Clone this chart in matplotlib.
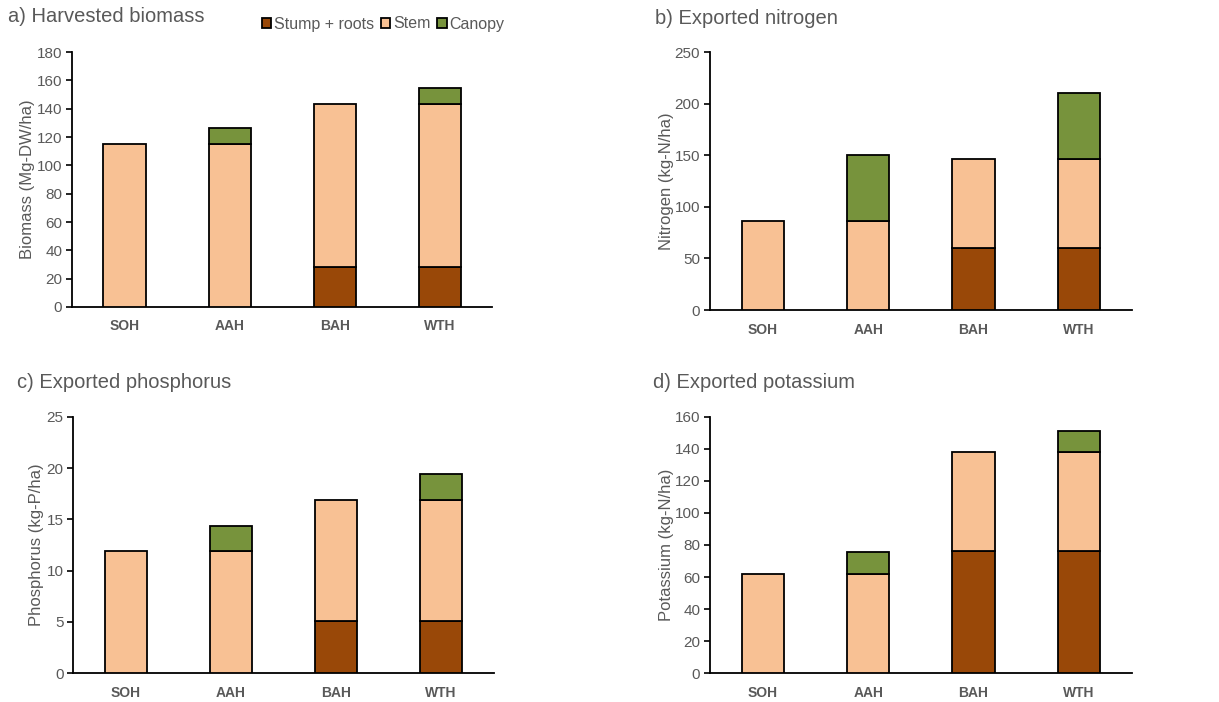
import numpy as np
import matplotlib.pyplot as plt

plt.rcParams['font.family'] = ['Liberation Sans', 'DejaVu Sans']

categories = ['SOH', 'AAH', 'BAH', 'WTH']
components = ['Stump + roots', 'Stem', 'Canopy']
colors = ['#994808', '#F8C194', '#77933C']

# stacked values per panel: stump, stem, canopy
biomass_stump = [0, 0, 28, 28]
biomass_stem = [115, 115, 115.5, 115.5]
biomass_canopy = [0, 11.5, 0, 11.5]

nitrogen_stump = [0, 0, 60, 60]
nitrogen_stem = [86, 86, 86, 86]
nitrogen_canopy = [0, 64, 0, 64]

phosphorus_stump = [0, 0, 5.1, 5.1]
phosphorus_stem = [11.9, 11.9, 11.8, 11.8]
phosphorus_canopy = [0, 2.5, 0, 2.5]

potassium_stump = [0, 0, 76, 76]
potassium_stem = [62, 62, 62, 62]
potassium_canopy = [0, 13.5, 0, 13]

panels = [
    ('a) Harvested biomass', 'Biomass (Mg-DW/ha)',
     (biomass_stump, biomass_stem, biomass_canopy), 180, 20),
    ('b) Exported nitrogen', 'Nitrogen (kg-N/ha)',
     (nitrogen_stump, nitrogen_stem, nitrogen_canopy), 250, 50),
    ('c) Exported phosphorus', 'Phosphorus (kg-P/ha)',
     (phosphorus_stump, phosphorus_stem, phosphorus_canopy), 25, 5),
    ('d) Exported potassium', 'Potassium (kg-N/ha)',
     (potassium_stump, potassium_stem, potassium_canopy), 160, 20),
]

# axes rectangles in figure fractions and title / ylabel positions
rects = [
    [0.059, 0.5627, 0.345, 0.363],
    [0.5824, 0.5584, 0.346, 0.3675],
    [0.060, 0.0413, 0.345, 0.3647],
    [0.5824, 0.0413, 0.346, 0.3647],
]
title_pos = [(8 / 1219, 1 - 17 / 702), (655 / 1219, 1 - 18 / 702),
             (17 / 1219, 1 - 383 / 702), (653 / 1219, 1 - 383 / 702)]
ylabel_x = [-0.088, -0.085, -0.069, -0.085]

grey = '#595959'
fig = plt.figure(figsize=(12.19, 7.02), dpi=100)
x = np.arange(len(categories))

for i, (title, ylabel, stacks, ymax, step) in enumerate(panels):
    ax = fig.add_axes(rects[i])
    bottom = np.zeros(len(categories))
    handles = []
    for vals, col, name in zip(stacks, colors, components):
        vals = np.array(vals, dtype=float)
        mask = vals > 0
        h = ax.bar(x[mask], vals[mask], 0.4, bottom=bottom[mask], color=col,
                   edgecolor='black', linewidth=1.3, label=name, zorder=3)
        handles.append(h)
        bottom += vals

    ax.set_xlim(-0.5, len(categories) - 0.5)
    ax.set_ylim(0, ymax)
    ax.set_yticks(np.arange(0, ymax + step / 2, step))
    ax.set_xticks(x)
    ax.set_xticklabels(categories, fontweight='bold', color=grey, fontsize=10)
    ax.tick_params(axis='x', length=0, pad=9)
    ax.tick_params(axis='y', direction='out', length=4, width=1.2,
                   labelsize=11, labelcolor=grey, pad=3)
    for side in ['top', 'right']:
        ax.spines[side].set_visible(False)
    for side in ['left', 'bottom']:
        ax.spines[side].set_linewidth(1.3)
    ax.set_ylabel(ylabel, color=grey, fontsize=12)
    ax.yaxis.set_label_coords(ylabel_x[i], 0.5)

    fig.text(title_pos[i][0], title_pos[i][1], title, fontsize=14.5,
             color=grey, ha='left', va='center')

    if i == 0:
        fig.legend(handles=handles, labels=components, loc='center',
                   bbox_to_anchor=(383 / 1219, 1 - 24 / 702), ncol=3,
                   frameon=False, fontsize=11.5, handlelength=0.6,
                   handleheight=0.6, handletextpad=0.15, columnspacing=0.45,
                   labelcolor=grey)

fig.savefig('out.png', dpi=100)
